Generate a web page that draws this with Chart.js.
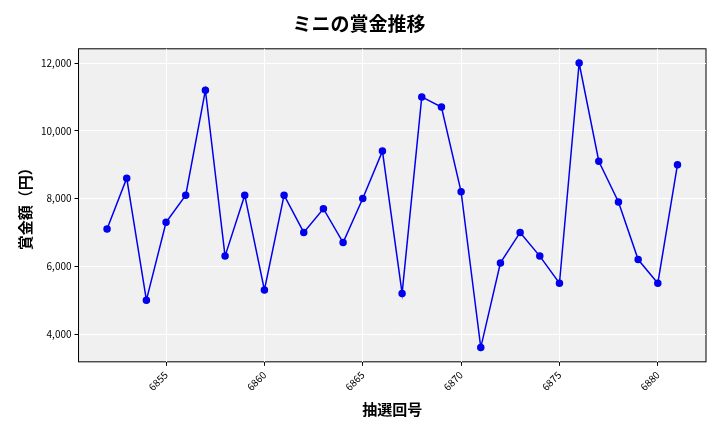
<!DOCTYPE html>
<html><head><meta charset="utf-8">
<script src="https://cdn.jsdelivr.net/npm/chart.js@4/dist/chart.umd.min.js"></script>
<style>body{margin:0;background:#fff}#w{width:720px;height:432px}</style>
</head><body><div id="w"><canvas id="c"></canvas></div>
<script>
const draws=[6852,6853,6854,6855,6856,6857,6858,6859,6860,6861,6862,6863,6864,6865,6866,6867,6868,6869,6870,6871,6872,6873,6874,6875,6876,6877,6878,6879,6880,6881];
const prizes=[7100,8600,5000,7300,8100,11200,6300,8100,5300,8100,7000,7700,6700,8000,9400,5200,11000,10700,8200,3600,6100,7000,6300,5500,12000,9100,7900,6200,5500,9000];
const xTicks=[6855,6860,6865,6870,6875,6880];
const yTicks=[4000,6000,8000,10000,12000];
const F="'Noto Sans CJK JP','Noto Sans',sans-serif";
const bg={id:'bg',beforeDraw(c){const a=c.chartArea,x=c.ctx;x.save();x.fillStyle='#f0f0f0';x.fillRect(a.left,a.top,a.width,a.height);x.strokeStyle='#000';x.lineWidth=1;x.strokeRect(a.left,a.top,a.width,a.height);x.restore();}};
new Chart(document.getElementById('c'),{type:'line',
data:{datasets:[{data:draws.map((d,i)=>({x:d,y:prizes[i]})),borderColor:'#0000ee',backgroundColor:'#0000ee',borderWidth:1.5,pointRadius:3,tension:0}]},
options:{responsive:true,maintainAspectRatio:false,animation:false,
layout:{padding:{left:12,right:14,top:10,bottom:10}},
plugins:{legend:{display:false},title:{display:true,text:'ミニの賞金推移',font:{family:F,size:19,weight:'bold'},color:'#000',padding:{top:2,bottom:14}}},
scales:{
x:{type:'linear',min:6850.55,max:6882.45,afterBuildTicks(s){s.ticks=xTicks.map(v=>({value:v}));},
ticks:{minRotation:45,maxRotation:45,font:{family:F,size:10},color:'#000',callback:v=>String(v)},
grid:{color:'#fff',drawTicks:true,tickColor:'#000',tickLength:4},border:{display:false},
title:{display:true,text:'抽選回号',font:{family:F,size:15,weight:'bold'},color:'#000'}},
y:{min:3180,max:12420,afterBuildTicks(s){s.ticks=yTicks.map(v=>({value:v}));},
ticks:{font:{family:F,size:10},color:'#000',callback:v=>v.toLocaleString('en-US')},
grid:{color:'#fff',tickColor:'#000',tickLength:4},border:{display:false},
title:{display:true,text:'賞金額（円）',font:{family:F,size:15,weight:'bold'},color:'#000'}}}},
plugins:[bg]});
</script></body></html>
